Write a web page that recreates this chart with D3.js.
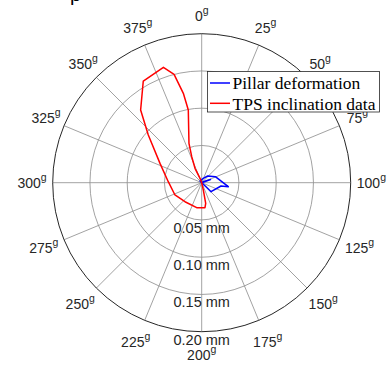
<!DOCTYPE html>
<html>
<head>
<meta charset="utf-8">
<script src="https://cdn.jsdelivr.net/npm/d3@7"></script>
<style>
  html, body { margin: 0; padding: 0; background: #fff; }
  svg { display: block; }
</style>
</head>
<body>
<svg id="chart" width="388" height="366"></svg>
<script>
// Angular ticks in gon (400 per turn), clockwise from north
const thetaTicks = [0, 25, 50, 75, 100, 125, 150, 175, 200, 225, 250, 275, 300, 325, 350, 375];
// Radial ticks in mm
const rhoTicks = [0.05, 0.10, 0.15, 0.20];
const rhoTickLabels = ["0.05 mm", "0.10 mm", "0.15 mm", "0.20 mm"];

// Pillar deformation (theta in gon, rho in mm)
const pillarTheta = [0, 350, 22.2, 46.4, 73.6, 109.5, 110.8, 148.9, 147.7, 0, 77.8, 69.3, 0];
const pillarRho   = [0, 0.003, 0.0063, 0.0121, 0.0200, 0.0361, 0.0263, 0.0174, 0.0079, 0, 0.0126, 0.0035, 0];

// TPS inclination data (theta in gon, rho in mm)
const tpsTheta = [0, 376.6, 372.3, 376.7, 380.1, 388.4, 387.1, 384.1, 379.6, 366.8, 355.5, 346.4, 327.6, 301.9, 272.6, 245.9, 212.6, 191.7, 187.8, 186.2, 0];
const tpsRho   = [0, 0.0063, 0.0213, 0.0374, 0.0556, 0.0992, 0.1225, 0.150, 0.1632, 0.1574, 0.1274, 0.0961, 0.0617, 0.0449, 0.0395, 0.034, 0.0342, 0.0338, 0.0282, 0.010, 0];

const seriesNames = ["Pillar deformation", "TPS inclination data"];
const seriesColors = ["#0000ff", "#ff0000"];

const svg = d3.select("#chart");
const cx = 201.7, cy = 182.7, outerR = 149;

const r = d3.scaleLinear().domain([0, 0.2]).range([0, outerR]);
const a = d3.scaleLinear().domain([0, 400]).range([0, 2 * Math.PI]);

// cut-off caption above the plot
svg.append("text")
  .attr("x", 70).attr("y", 1)
  .attr("font-family", "Liberation Sans, Arial, sans-serif")
  .attr("font-size", 20)
  .attr("fill", "#000")
  .text("p");

const g = svg.append("g").attr("transform", `translate(${cx},${cy})`);

// spokes
g.selectAll("line.spoke")
  .data(thetaTicks)
  .join("line")
  .attr("class", "spoke")
  .attr("x1", 0).attr("y1", 0)
  .attr("x2", d => outerR * Math.sin(a(d)))
  .attr("y2", d => -outerR * Math.cos(a(d)))
  .attr("stroke", "#8a8a8a")
  .attr("stroke-width", 0.8);

// rings
g.selectAll("circle.ring")
  .data(rhoTicks.slice(0, -1))
  .join("circle")
  .attr("class", "ring")
  .attr("r", d => r(d))
  .attr("fill", "none")
  .attr("stroke", "#8a8a8a")
  .attr("stroke-width", 0.8);

// outer boundary
g.append("circle")
  .attr("r", r(0.2))
  .attr("fill", "none")
  .attr("stroke", "#262626")
  .attr("stroke-width", 1);

// angular tick labels
const angLabels = g.selectAll("text.ang")
  .data(thetaTicks)
  .join("text")
  .attr("class", "ang")
  .attr("font-family", "Liberation Sans, Arial, sans-serif")
  .attr("font-size", 14)
  .attr("fill", "#262626")
  .attr("text-anchor", "middle")
  .attr("x", d => (169.7 - 3 * Math.cos(a(d))) * Math.sin(a(d)))
  .attr("y", d => -(169.7 - 3 * Math.cos(a(d))) * Math.cos(a(d)) + 5);
angLabels.append("tspan").text(d => d);
angLabels.append("tspan")
  .attr("font-size", 10.5)
  .attr("dy", -7)
  .text("g");

// radial tick labels along the 200 gon direction
g.selectAll("text.rad")
  .data(rhoTicks)
  .join("text")
  .attr("class", "rad")
  .attr("font-family", "Liberation Sans, Arial, sans-serif")
  .attr("font-size", 14.5)
  .attr("fill", "#262626")
  .attr("text-anchor", "middle")
  .attr("x", 0)
  .attr("y", d => r(d) + 13)
  .text((d, i) => rhoTickLabels[i]);

// data lines
const radial = d3.lineRadial()
  .angle(d => a(d[0]))
  .radius(d => r(d[1]))
  .curve(d3.curveLinear);

const series = [
  d3.zip(pillarTheta, pillarRho),
  d3.zip(tpsTheta, tpsRho)
];

g.selectAll("path.series")
  .data(series)
  .join("path")
  .attr("class", "series")
  .attr("d", radial)
  .attr("fill", "none")
  .attr("stroke", (d, i) => seriesColors[i])
  .attr("stroke-width", 1.5)
  .attr("stroke-linejoin", "round");

// legend
const lg = svg.append("g");
lg.append("rect")
  .attr("x", 207.5).attr("y", 71.5)
  .attr("width", 172).attr("height", 40.5)
  .attr("fill", "#fff")
  .attr("stroke", "#262626")
  .attr("stroke-width", 0.8);

seriesNames.forEach((name, i) => {
  const yy = 83 + i * 20.3;
  lg.append("line")
    .attr("x1", 210).attr("x2", 230)
    .attr("y1", yy).attr("y2", yy)
    .attr("stroke", seriesColors[i])
    .attr("stroke-width", 1.5);
  lg.append("text")
    .attr("x", 232.5).attr("y", yy + 6.3)
    .attr("font-family", "Liberation Serif, Times New Roman, serif")
    .attr("font-size", 17.5)
    .attr("fill", "#000")
    .text(name);
});
</script>
</body>
</html>
